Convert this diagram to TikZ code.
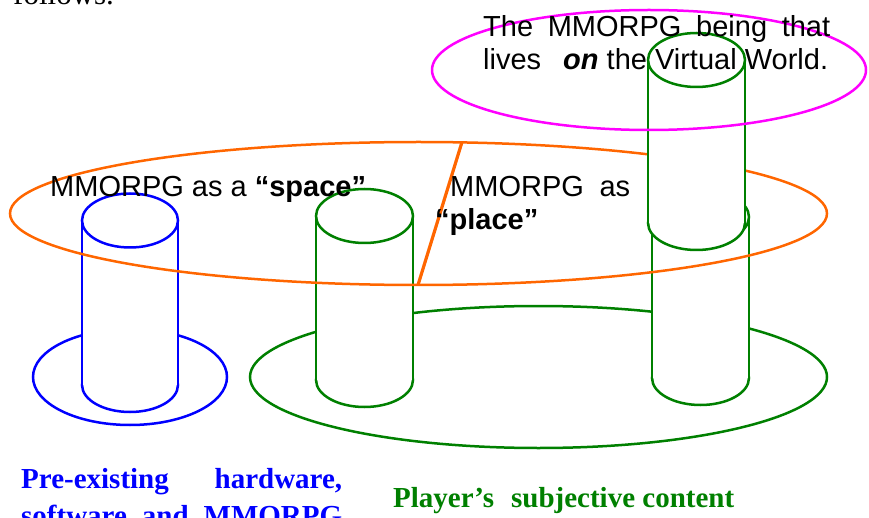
\documentclass[tikz,border=0pt]{standalone}
\usepackage{fontspec}
\setmainfont{Liberation Serif}
\newfontfamily\arialfamily{Liberation Sans}

\definecolor{cylblue}{RGB}{0,0,255}
\definecolor{cylgreen}{RGB}{0,128,0}
\definecolor{ringorange}{RGB}{255,102,0}
\definecolor{ringmagenta}{RGB}{255,0,255}

\tikzset{
  outline/.style={line width=2.5pt},
  splitline/.style={line width=3.2pt, ringorange},
  sanslabel/.style={inner sep=0pt, anchor=base west,
    font=\arialfamily\fontsize{29}{33}\selectfont},
  seriflabel/.style={inner sep=0pt, anchor=base west,
    font=\bfseries\fontsize{29}{33}\selectfont},
  bodytext/.style={inner sep=0pt, anchor=base west,
    font=\fontsize{31}{35}\selectfont},
}

% #1 colour, #2 centre x, #3 top y, #4 bottom y, #5 x radius, #6 y radius
\newcommand\drawcylinder[6]{%
  \filldraw[outline,#1,fill=white] (#2,#4) ellipse[x radius=#5,y radius=#6];
  \fill[white] (#2-#5,#3) rectangle (#2+#5,#4);
  \draw[outline,#1] (#2-#5,#3) -- (#2-#5,#4) (#2+#5,#3) -- (#2+#5,#4);
  \filldraw[outline,#1,fill=white] (#2,#3) ellipse[x radius=#5,y radius=#6];
}

\begin{document}
\begin{tikzpicture}[x=1pt,y=-1pt]
\useasboundingbox (0,0) rectangle (869,518);

% running text of the page above the figure
\node[bodytext] (follows) at (13,5) {follows.};

% pre-existing hardware and software
\draw[outline,cylblue] (130,377) ellipse[x radius=97,y radius=48];
\drawcylinder{cylblue}{130}{220.5}{385}{48}{27}

% player's subjective content
\draw[outline,cylgreen] (538.5,377) ellipse[x radius=288.5,y radius=71];
\drawcylinder{cylgreen}{364.5}{216}{380}{48.5}{27}
\drawcylinder{cylgreen}{700.5}{217}{378}{48.5}{27}

% space / place ring with its dividing stroke
\draw[outline,ringorange] (418.5,213.5) ellipse[x radius=408.5,y radius=71.5];
\coordinate (splittop) at (462,142);
\coordinate (splitbottom) at (418,285);
\draw[splitline] (splittop) -- (splitbottom);

\node[sanslabel] (space) at (50,197) {MMORPG as a \textbf{“space”}};
\node[sanslabel] (placeA) at (450,197) {\makebox[180pt][s]{MMORPG as}};
\node[sanslabel] (placeB) at (435,230) {\textbf{“place”}};

% the being living on the virtual world
\drawcylinder{cylgreen}{696.5}{60}{223}{48.5}{27}
\draw[outline,ringmagenta] (649,70) ellipse[x radius=217,y radius=60];
\node[sanslabel] (beingA) at (483,37) {\makebox[347pt][s]{The MMORPG being that}};
\node[sanslabel] (beingB) at (483,70) {lives\hspace{22pt}\textbf{\textit{on}} the Virtual World.};

% captions
\node[seriflabel,text=cylblue] (hwA) at (21,488) {\makebox[321pt][s]{Pre-existing hardware,}};
\node[seriflabel,text=cylblue] (hwB) at (21,525) {\makebox[321pt][s]{software and MMORPG}};
\node[seriflabel,text=cylgreen] (player) at (393,507) {Player’s\hspace{17pt}subjective content};
\end{tikzpicture}
\end{document}
